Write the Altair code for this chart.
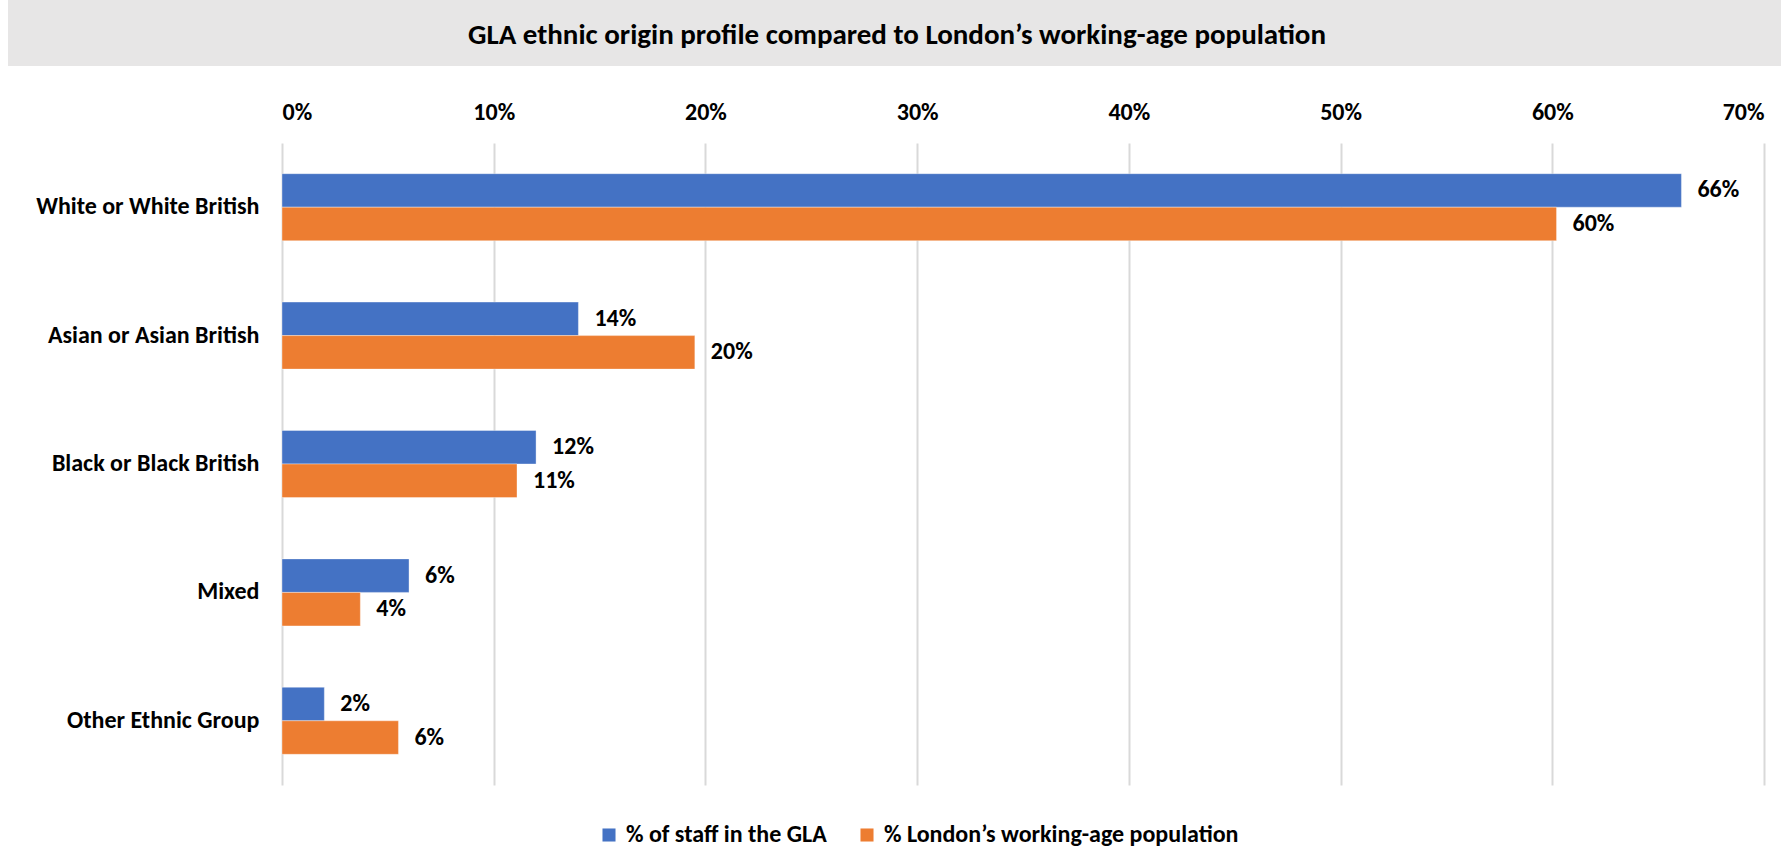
import altair as alt
import pandas as pd

categories = ["White or White British", "Asian or Asian British", "Black or Black British", "Mixed", "Other Ethnic Group"]
series_names = ["% of staff in the GLA", "% London\u2019s working-age population"]
gla_values = [0.661, 0.140, 0.120, 0.060, 0.020]
london_values = [0.602, 0.195, 0.111, 0.037, 0.055]
gla_labels = ["66%", "14%", "12%", "6%", "2%"]
london_labels = ["60%", "20%", "11%", "4%", "6%"]
x_ticks = [0, 0.1, 0.2, 0.3, 0.4, 0.5, 0.6, 0.7]
colors = ["#4472C4", "#ED7D31"]
title_text = "GLA ethnic origin profile compared to London\u2019s working-age population"

rows = []
for c, v, l in zip(categories, gla_values, gla_labels):
    rows.append({"category": c, "series": series_names[0], "value": v, "label": l})
for c, v, l in zip(categories, london_values, london_labels):
    rows.append({"category": c, "series": series_names[1], "value": v, "label": l})
df = pd.DataFrame(rows)

FONT = "Carlito, Calibri, Lato, sans-serif"
W, H = 1482, 642
PL, PT = 282, 143
FS = 24

base = alt.Chart(df)

y_enc = alt.Y("category:N", sort=categories,
              scale=alt.Scale(paddingInner=0.478, paddingOuter=0.239),
              axis=alt.Axis(title=None, domain=False, ticks=False, labelPadding=23,
                            labelFontSize=FS, labelFontWeight="bold", labelColor="black",
                            labelLimit=400, labelFont=FONT))
yoff = alt.YOffset("series:N", sort=series_names)
x_enc = alt.X("value:Q", scale=alt.Scale(domain=[0, 0.7], nice=False),
              axis=alt.Axis(orient="top", format=".0%", values=x_ticks, grid=True,
                            gridColor="#d9d9d9", gridWidth=2, domain=False, ticks=False,
                            labelPadding=19, title=None, labelFontSize=FS,
                            labelFontWeight="bold", labelColor="black", labelFont=FONT))

bars = base.mark_bar(stroke="white", strokeWidth=0.6, strokeOpacity=0.6).encode(
    x=x_enc, y=y_enc, yOffset=yoff,
    color=alt.Color("series:N", sort=series_names,
                    scale=alt.Scale(domain=series_names, range=colors),
                    legend=alt.Legend(title=None, orient="none", legendX=315, legendY=680,
                                      direction="horizontal", symbolType="square",
                                      symbolSize=170, symbolStrokeWidth=0, columnPadding=28,
                                      labelFontSize=FS, labelFontWeight="bold",
                                      labelColor="black", labelFont=FONT, labelOffset=5,
                                      labelLimit=500))
)

labels = base.mark_text(align="left", baseline="middle", dx=16, fontSize=FS,
                        fontWeight="bold", color="black", font=FONT).encode(
    x="value:Q", y=alt.Y("category:N", sort=categories), yOffset=yoff, text="label:N")

one = alt.Data(values=[{}])
title_bg = alt.Chart(one).mark_rect(color="#e7e6e6").encode(
    x=alt.value(8 - PL), x2=alt.value(1781 - PL), y=alt.value(0 - PT), y2=alt.value(66 - PT))
title = alt.Chart(one).mark_text(fontSize=29, fontWeight="bold", color="black", font=FONT,
                                  align="center", baseline="middle").encode(
    x=alt.value(897 - PL), y=alt.value(35 - PT), text=alt.value(title_text))

chart = alt.layer(title_bg, title, bars, labels).properties(
    width=W, height=H, autosize=alt.AutoSizeParams(type="none"),
    padding={"left": PL, "top": PT, "right": 1789 - PL - W, "bottom": 850 - PT - H},
    background="white"
).configure_view(stroke=None)

chart.save("out.html", embed_options={"renderer": "svg", "actions": False})
